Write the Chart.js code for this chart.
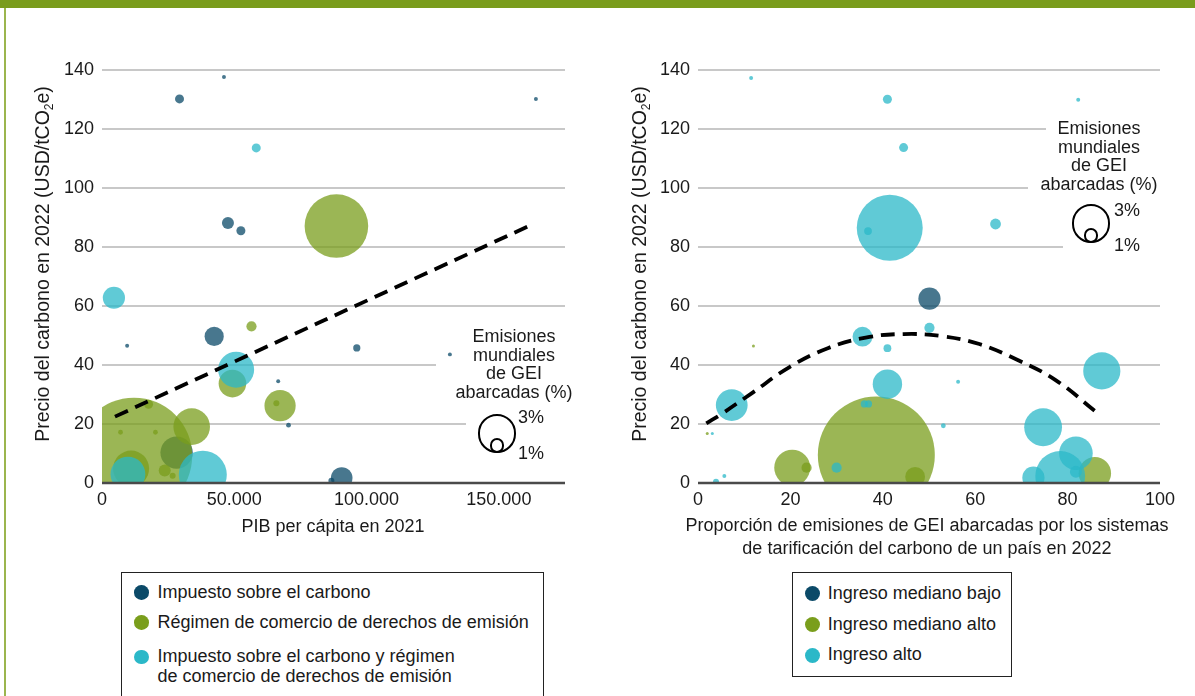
<!DOCTYPE html>
<html lang="es">
<head>
<meta charset="utf-8">
<title>Precio del carbono en 2022</title>
<script src="https://cdn.jsdelivr.net/npm/chart.js@4.4.1/dist/chart.umd.min.js"></script>
<style>
  body { margin:0; width:1195px; height:696px; overflow:hidden; background:#fff; position:relative;
         font-family:"Liberation Sans", Arial, Helvetica, sans-serif; font-size:18px; color:#1a1a1a; }
  .topbar { position:absolute; left:0; top:0; width:1195px; height:8px; background:#7a9c1c; }
  .sideline { position:absolute; left:4px; top:8px; width:2px; height:688px; background:#9bb54e; }
  canvas.chart { position:absolute; display:block; }
  .ytitle { position:absolute; width:440px; height:22px; line-height:22px; text-align:center;
            transform:rotate(-90deg); white-space:nowrap; font-size:19.5px; }
  .ytitle sub { font-size:12px; vertical-align:-4px; line-height:0; }
  .xtitle { position:absolute; text-align:center; white-space:nowrap; }
  .sizeleg { position:absolute; width:140px; text-align:center; line-height:18.6px; white-space:pre-line; }
  .ring { position:absolute; border:2.5px solid #000; border-radius:50%; box-sizing:border-box; }
  .pct { position:absolute; line-height:20px; }
  .legend { position:absolute; border:1.5px solid #222; box-sizing:border-box; background:#fff; }
  .item { position:absolute; line-height:19.5px; white-space:pre-line; }
  .dot { position:absolute; border-radius:50%; }
</style>
</head>
<body>
<div class="topbar"></div>
<div class="sideline"></div>

<canvas id="gdpChart" class="chart" width="540" height="470" style="left:50px;top:50px;width:540px;height:470px"></canvas>
<canvas id="covChart" class="chart" width="555" height="470" style="left:640px;top:50px;width:555px;height:470px"></canvas>

<div class="ytitle" style="left:-178px;top:253px">Precio del carbono en 2022 (USD/tCO<sub>2</sub>e)</div>
<div class="ytitle" style="left:419px;top:253px">Precio del carbono en 2022 (USD/tCO<sub>2</sub>e)</div>

<div class="xtitle" style="left:183px;top:515px;width:300px;line-height:22px">PIB per cápita en 2021</div>
<div class="xtitle" style="left:667px;top:513.7px;width:520px;line-height:23.2px">Proporción de emisiones de GEI abarcadas por los sistemas<br>de tarificación del carbono de un país en 2022</div>

<div id="legendLeft" class="legend" style="left:120.7px;top:571.7px;width:423.6px;height:140px"></div>
<div id="legendRight" class="legend" style="left:791.7px;top:571.7px;width:220.6px;height:105.6px"></div>

<script>
// categorías
const mechanismLabels = ['Impuesto sobre el carbono', 'Régimen de comercio de derechos de emisión',
  'Impuesto sobre el carbono y régimen\nde comercio de derechos de emisión'];
const incomeLabels = ['Ingreso mediano bajo', 'Ingreso mediano alto', 'Ingreso alto'];
const sizeTitle = 'Emisiones\nmundiales\nde GEI\nabarcadas (%)';
const sizeKeys = [3, 1];
const colors = ['#0b4a68', '#7a9e1c', '#2bb8c8'];

// izquierda: [PIB per cápita 2021, precio USD/tCO2e, % emisiones mundiales abarcadas]
const gdpTax = [
  [29300, 130.2, 0.75], [46100, 137.6, 0.33], [164000, 130.2, 0.33], [47600, 88.1, 1.0],
  [52500, 85.5, 0.75], [9500, 46.5, 0.33], [42400, 49.7, 1.6], [96300, 45.8, 0.6],
  [131500, 43.6, 0.33], [66600, 34.5, 0.33], [70500, 19.6, 0.4], [28200, 10.3, 2.7],
  [90600, 1.7, 1.8], [86700, 0.8, 0.5]
];
const gdpEts = [
  [12100, 9.2, 9.7], [88600, 87.1, 5.3], [56500, 53.1, 0.85], [49300, 33.7, 2.3],
  [67300, 26.2, 2.6], [65900, 27.0, 0.5], [33900, 19.1, 3.05], [11000, 4.9, 3.0],
  [23700, 4.2, 1.0], [26700, 2.5, 0.5], [7000, 17.2, 0.4], [20200, 17.2, 0.4],
  [17600, 26.7, 0.75]
];
const gdpBoth = [
  [58300, 113.6, 0.75], [4500, 62.8, 1.85], [50700, 38.4, 3.0], [38100, 2.8, 4.0], [9800, 3.0, 2.9]
];
const gdpTrend = [[4900, 22.5], [163000, 87.8]];
const gdpTicks = [0, 50000, 100000, 150000];

// derecha: [% emisiones del país abarcadas, precio USD/tCO2e, % emisiones mundiales abarcadas]
const covLowMid = [[50.1, 62.5, 1.85]];
const covUpperMid = [
  [38.6, 9.5, 9.75], [12.0, 46.4, 0.25], [2.0, 16.8, 0.25], [20.4, 5.2, 3.0],
  [23.5, 5.2, 0.85], [47.0, 2.1, 1.65], [85.9, 3.3, 2.7]
];
const covHigh = [
  [11.5, 137.3, 0.33], [41.0, 130.1, 0.75], [82.3, 129.9, 0.33], [44.5, 113.7, 0.75],
  [41.5, 86.5, 5.5], [36.8, 85.4, 0.65], [64.4, 87.8, 0.9], [50.1, 52.6, 0.85],
  [35.6, 49.6, 1.65], [41.0, 45.7, 0.65], [56.3, 34.3, 0.33], [41.0, 33.5, 2.45],
  [87.4, 38.0, 3.1], [7.3, 26.4, 2.65], [36.0, 26.8, 0.6], [36.9, 26.8, 0.6],
  [53.1, 19.4, 0.4], [3.1, 16.8, 0.25], [74.7, 18.9, 3.15], [30.0, 5.2, 0.85],
  [5.7, 2.4, 0.33], [3.9, 0.4, 0.5], [81.8, 10.1, 2.8], [78.4, 2.4, 4.15],
  [72.6, 1.8, 1.85], [81.8, 3.8, 1.0]
];
const covTrend = [
  [1.8, 20.2], [5.1, 23.4], [11.6, 30.4], [19.9, 39.4], [28.1, 45.7], [36.3, 49.3],
  [44.5, 50.5], [52.7, 49.8], [60.9, 47.1], [69.2, 41.7], [77.4, 34.9], [86.4, 23.8]
];
const covTicks = [0, 20, 40, 60, 80, 100];
const priceTicks = [0, 20, 40, 60, 80, 100, 120, 140];

const PX_PER_PCT = 6;

Chart.defaults.font.family = '"Liberation Sans", Arial, Helvetica, sans-serif';
Chart.defaults.font.size = 18;
Chart.defaults.color = '#1a1a1a';

function rgba(hex, a) {
  const n = parseInt(hex.slice(1), 16);
  return 'rgba(' + (n >> 16) + ',' + ((n >> 8) & 255) + ',' + (n & 255) + ',' + a + ')';
}

// white gaps behind the size key, and the zero line on top of the bubbles
const frame = {
  id: 'frame',
  beforeDatasetsDraw(chart, args, opts) {
    const ctx = chart.ctx;
    ctx.save();
    ctx.fillStyle = '#fff';
    (opts.gaps || []).forEach(g => ctx.fillRect(g[0], g[1], g[2], g[3]));
    ctx.restore();
  },
  afterDatasetsDraw(chart) {
    const { ctx, chartArea, scales } = chart;
    const y0 = scales.y.getPixelForValue(0);
    ctx.save();
    ctx.strokeStyle = '#4a4a4a';
    ctx.lineWidth = 2.5;
    ctx.beginPath();
    ctx.moveTo(chartArea.left, y0);
    ctx.lineTo(chartArea.right, y0);
    ctx.stroke();
    ctx.restore();
  }
};

function drawChart(id, groups, trend, cfg) {
  const datasets = groups.map((rows, i) => ({
    type: 'bubble',
    data: rows.map(([x, y, p]) => ({ x: x, y: y, r: p * PX_PER_PCT })),
    backgroundColor: rgba(colors[i], 0.75),
    borderWidth: 0,
    hoverBorderWidth: 0,
    clip: 0,
    order: 3 - i
  }));
  datasets.push({
    type: 'line',
    data: trend.map(([x, y]) => ({ x: x, y: y })),
    borderColor: '#000',
    borderWidth: 3.8,
    borderDash: [14, 8],
    pointRadius: 0,
    tension: 0.4,
    fill: false,
    order: 0
  });

  return new Chart(document.getElementById(id), {
    type: 'bubble',
    data: { datasets: datasets },
    plugins: [frame],
    options: {
      responsive: false,
      devicePixelRatio: 1,
      animation: false,
      events: [],
      layout: { autoPadding: false, padding: { top: 20, right: cfg.padRight, left: 0, bottom: 0 } },
      plugins: {
        legend: { display: false },
        tooltip: { enabled: false },
        frame: { gaps: cfg.gaps }
      },
      scales: {
        x: {
          type: 'linear',
          min: 0,
          max: cfg.xMax,
          grid: { display: false },
          border: { display: false },
          ticks: { padding: -2, maxRotation: 0, autoSkip: false, callback: cfg.xFormat },
          afterBuildTicks: s => { s.ticks = cfg.xTicks.map(v => ({ value: v })); },
          afterFit: s => { s.height = 37; }
        },
        y: {
          type: 'linear',
          min: 0,
          max: 140,
          grid: { color: '#c8c8c8', lineWidth: 2, drawTicks: false },
          border: { display: false },
          ticks: { padding: 8 },
          afterBuildTicks: s => { s.ticks = priceTicks.map(v => ({ value: v })); },
          afterFit: s => { s.width = cfg.yWidth; }
        }
      }
    }
  });
}

drawChart('gdpChart', [gdpTax, gdpEts, gdpBoth], gdpTrend, {
  xMax: 175000, xTicks: gdpTicks, padRight: 25, yWidth: 52,
  xFormat: v => String(v).replace(/\B(?=(\d{3})+(?!\d))/g, '.'),
  gaps: [[386, 268, 145, 88], [416, 358, 115, 52]]
});

drawChart('covChart', [covLowMid, covUpperMid, covHigh], covTrend, {
  xMax: 100, xTicks: covTicks, padRight: 35, yWidth: 58,
  xFormat: v => String(v),
  gaps: [[406, 65, 125, 25], [388, 125, 137, 25], [423, 150, 107, 55]]
});

// size key (bubble radius per % of global emissions)
function sizeKey(textLeft, textTop, cx, bottom, labelLeft, labelTops) {
  const t = document.createElement('div');
  t.className = 'sizeleg';
  t.style.left = textLeft + 'px';
  t.style.top = textTop + 'px';
  t.textContent = sizeTitle;
  document.body.appendChild(t);
  sizeKeys.forEach((p, i) => {
    const d = 2 * p * PX_PER_PCT + 2.5;
    const ring = document.createElement('div');
    ring.className = 'ring';
    ring.style.width = d + 'px';
    ring.style.height = d + 'px';
    ring.style.left = (cx - d / 2) + 'px';
    ring.style.top = (bottom - d) + 'px';
    document.body.appendChild(ring);
    const lab = document.createElement('div');
    lab.className = 'pct';
    lab.style.left = labelLeft + 'px';
    lab.style.top = labelTops[i] + 'px';
    lab.textContent = p + '%';
    document.body.appendChild(lab);
  });
}
sizeKey(444, 327.2, 497.2, 452.8, 518, [407.3, 443.3]);
sizeKey(1029, 119.2, 1090.8, 242.5, 1114, [200, 234.5]);

// category legends
function legend(id, labels, rowTops, dotX, textX, dotD) {
  const box = document.getElementById(id);
  labels.forEach((txt, i) => {
    const dot = document.createElement('div');
    dot.className = 'dot';
    dot.style.width = dotD + 'px';
    dot.style.height = dotD + 'px';
    dot.style.left = (dotX - dotD / 2) + 'px';
    dot.style.top = (rowTops[i] + 9.75 - dotD / 2) + 'px';
    dot.style.background = colors[i];
    box.appendChild(dot);
    const it = document.createElement('div');
    it.className = 'item';
    it.style.left = textX + 'px';
    it.style.top = rowTops[i] + 'px';
    it.textContent = txt;
    box.appendChild(it);
  });
}
legend('legendLeft', mechanismLabels, [10.3, 40, 74.7], 20.1, 35.8, 14.6);
legend('legendRight', incomeLabels, [11, 42, 72.7], 20.1, 35.1, 15);
</script>
</body>
</html>
